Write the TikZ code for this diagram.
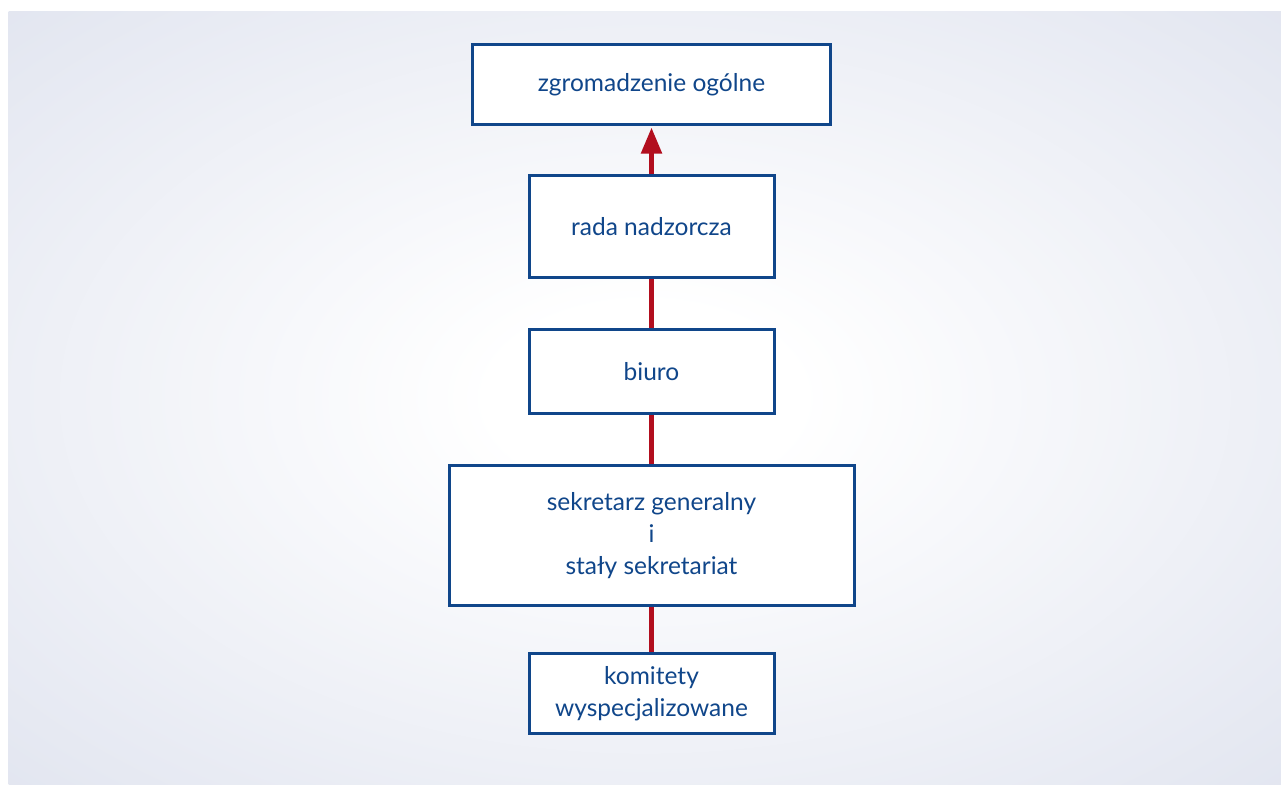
\documentclass[tikz,border=0pt]{standalone}
\usepackage{fontspec}
\setmainfont{Lato}
\usetikzlibrary{arrows.meta}
\definecolor{boxblue}{RGB}{16,70,138}
\definecolor{linkred}{RGB}{178,14,30}
\definecolor{bgmid}{RGB}{222,226,238}
\definecolor{bgedge}{RGB}{200,206,226}
\pgfdeclareradialshading{bgshade}{\pgfpoint{0bp}{0bp}}{color(0bp)=(white); color(6bp)=(white); color(40bp)=(bgmid); color(65bp)=(bgedge); color(100bp)=(bgedge)}
\pgfdeclarelayer{back}
\pgfdeclarelayer{links}
\pgfsetlayers{back,links,main}
\tikzset{
  orgbox/.style={draw=boxblue, line width=3pt, fill=white, text=boxblue,
    align=center, inner sep=0pt, font=\fontsize{24.5}{32}\selectfont},
  link/.style={draw=linkred, line width=5pt}
}
\begin{document}
\begin{tikzpicture}[x=1pt, y=-1pt]
  \useasboundingbox (0,0) rectangle (1281,784);
  % backdrop
  \begin{pgfonlayer}{back}
    \shade[shading=bgshade] (8.5,12) rectangle (1281,784);
  \end{pgfonlayer}

  \node[orgbox, minimum width=358pt, minimum height=80pt] (zo) at (651.5,84.5) {zgromadzenie ogólne};
  \node[orgbox, minimum width=245pt, minimum height=102pt] (rn) at (651.5,226.5) {rada nadzorcza};
  \node[orgbox, minimum width=245pt, minimum height=84pt] (bi) at (651.5,371.5) {biuro};
  \node[orgbox, minimum width=405pt, minimum height=140pt] (sg) at (651.5,535.5) {sekretarz generalny\\i\\stały sekretariat};
  \node[orgbox, minimum width=245pt, minimum height=80pt] (kw) at (651.5,693.5) {komitety\\wyspecjalizowane};

  % connectors run under the boxes
  \begin{pgfonlayer}{links}
    \draw[link, shorten >=1.5pt, -{Triangle[width=20pt,length=26pt]}] (rn.center) -- (zo.south);
    \draw[link] (bi.center) -- (rn.center);
    \draw[link] (sg.center) -- (bi.center);
    \draw[link] (kw.center) -- (sg.center);
  \end{pgfonlayer}
\end{tikzpicture}
\end{document}
